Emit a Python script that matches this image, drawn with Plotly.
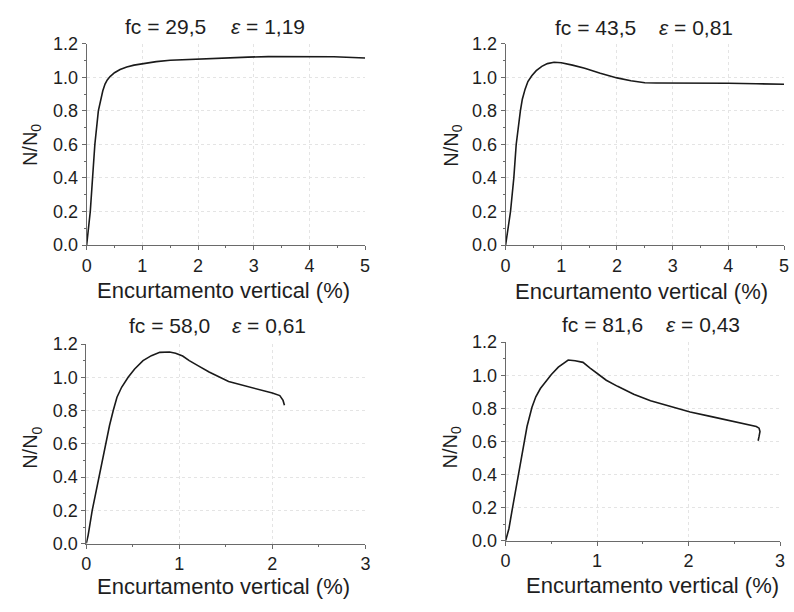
import plotly.graph_objects as go

# ---- data ----
x1 = [0, 0.02, 0.065, 0.106, 0.147, 0.21, 0.25, 0.29, 0.33, 0.37, 0.42, 0.5, 0.6, 0.72, 0.85, 1.02, 1.25, 1.5, 1.8, 2.08, 2.5, 2.9, 3.26, 3.8, 4.44, 5.0]
y1 = [0, 0.06, 0.20, 0.40, 0.60, 0.80, 0.87, 0.92, 0.96, 0.985, 1.005, 1.028, 1.047, 1.062, 1.073, 1.083, 1.094, 1.102, 1.107, 1.111, 1.117, 1.121, 1.124, 1.125, 1.123, 1.116]

x2 = [0, 0.03, 0.088, 0.147, 0.19, 0.265, 0.3, 0.35, 0.4, 0.47, 0.55, 0.65, 0.75, 0.87, 1.0, 1.2, 1.42, 1.7, 2.0, 2.25, 2.5, 2.7, 3.0, 3.42, 4.0, 4.5, 5.0]
y2 = [0, 0.066, 0.20, 0.40, 0.60, 0.80, 0.87, 0.93, 0.975, 1.01, 1.04, 1.066, 1.082, 1.09, 1.087, 1.073, 1.054, 1.025, 0.997, 0.98, 0.968, 0.967, 0.967, 0.967, 0.965, 0.962, 0.959]

x3 = [0, 0.02, 0.064, 0.11, 0.152, 0.205, 0.25, 0.29, 0.33, 0.38, 0.45, 0.52, 0.61, 0.70, 0.79, 0.895, 0.96, 1.036, 1.107, 1.2, 1.32, 1.53, 1.7, 1.886, 2.0, 2.08, 2.115, 2.13]
y3 = [0, 0.05, 0.20, 0.33, 0.45, 0.60, 0.71, 0.80, 0.88, 0.94, 1.00, 1.05, 1.10, 1.13, 1.15, 1.152, 1.145, 1.128, 1.10, 1.07, 1.032, 0.975, 0.95, 0.926, 0.905, 0.89, 0.861, 0.832]

x4 = [0, 0.036, 0.072, 0.126, 0.18, 0.234, 0.288, 0.33, 0.38, 0.43, 0.5, 0.576, 0.634, 0.684, 0.76, 0.846, 0.92, 0.99, 1.1, 1.224, 1.4, 1.584, 1.8, 2.017, 2.25, 2.45, 2.66, 2.74, 2.77, 2.78, 2.77, 2.76]
y4 = [0, 0.072, 0.188, 0.36, 0.517, 0.69, 0.807, 0.87, 0.92, 0.955, 1.005, 1.049, 1.075, 1.092, 1.088, 1.078, 1.045, 1.016, 0.97, 0.933, 0.885, 0.846, 0.81, 0.778, 0.75, 0.726, 0.70, 0.69, 0.68, 0.66, 0.63, 0.604]

fc_labels = ["fc = 29,5", "fc = 43,5", "fc = 58,0", "fc = 81,6"]
eps_labels = ["<i>ε</i> = 1,19", "<i>ε</i> = 0,81", "<i>ε</i> = 0,61", "<i>ε</i> = 0,43"]
x_ranges = [[0, 5], [0, 5], [0, 3], [0, 3]]
x_title = "Encurtamento vertical (%)"
y_title = "N/N<sub>0</sub>"
y_ticks = [0, 0.2, 0.4, 0.6, 0.8, 1.0, 1.2]

# ---- layout (pixel geometry) ----
W, H = 794, 612
boxes = [(82.7, 364.7, 35, 243), (507, 789, 35, 243),
         (82.3, 365, 345.3, 551.7), (507, 785, 343.4, 548.6)]
title_pos = [((162.5, 17), (266, 17)), ((598, 18), (700, 18)),
             ((166.7, 326), (267, 326)), ((605.5, 325), (706.5, 325))]
xtitle_pos = [(221.7, 290), (645, 291), (221.7, 596), (656, 595)]
ytitle_pos = [(27, 140), (453, 140), (27, 453), (452, 452)]

FONT = "Liberation Sans, Arial, sans-serif"
TXT = "#1e1e1e"
AX = "#6a6a6a"

fig = go.Figure()
xs = [x1, x2, x3, x4]
ys = [y1, y2, y3, y4]
anns = []
for i in range(4):
    sfx = "" if i == 0 else str(i + 1)
    fig.add_trace(go.Scatter(x=xs[i], y=ys[i], mode="lines",
                             line=dict(color="#1a1a1a", width=1.6),
                             xaxis="x" + sfx, yaxis="y" + sfx, showlegend=False, hoverinfo="skip"))
    x0, xe, yt, yb = boxes[i]
    common = dict(showline=True, linecolor=AX, linewidth=1,
                  ticks="outside", ticklen=4, tickcolor=AX, tickwidth=1,
                  showgrid=True, gridcolor="#e4e4e4", griddash="dot", gridwidth=1,
                  zeroline=False, tickfont=dict(family=FONT, size=18, color=TXT))
    fig.update_layout(**{
        "xaxis" + sfx: dict(domain=[x0 / W, xe / W], range=x_ranges[i], anchor="y" + sfx,
                            dtick=1, tick0=0,
                            minor=dict(ticks="outside", ticklen=2, dtick=0.5, tickcolor=AX, showgrid=False),
                            **common),
        "yaxis" + sfx: dict(domain=[1 - yb / H, 1 - yt / H], range=[0, 1.2], anchor="x" + sfx,
                            tickvals=y_ticks, tickformat=".1f",
                            minor=dict(ticks="outside", ticklen=2, dtick=0.1, tickcolor=AX, showgrid=False),
                            **common),
    })
    (fx, fy), (ex, ey) = title_pos[i]
    anns.append(dict(text=fc_labels[i], x=fx / W, y=1 - fy / H, xref="paper", yref="paper",
                     showarrow=False, xanchor="center", yanchor="middle",
                     font=dict(family=FONT, size=21, color=TXT)))
    anns.append(dict(text=eps_labels[i], x=ex / W, y=1 - ey / H, xref="paper", yref="paper",
                     showarrow=False, xanchor="center", yanchor="middle",
                     font=dict(family=FONT, size=21, color=TXT)))
    tx, ty = xtitle_pos[i]
    anns.append(dict(text=x_title, x=tx / W, y=1 - ty / H, xref="paper", yref="paper",
                     showarrow=False, xanchor="center", yanchor="middle",
                     font=dict(family=FONT, size=22, color=TXT)))
    vx, vy = ytitle_pos[i]
    anns.append(dict(text=y_title, x=vx / W, y=1 - vy / H, xref="paper", yref="paper",
                     showarrow=False, xanchor="center", yanchor="middle", textangle=-90,
                     font=dict(family=FONT, size=20, color=TXT)))

fig.update_layout(width=W, height=H, margin=dict(l=0, r=0, t=0, b=0),
                  paper_bgcolor="white", plot_bgcolor="white", annotations=anns)
fig.write_html("out.html")
